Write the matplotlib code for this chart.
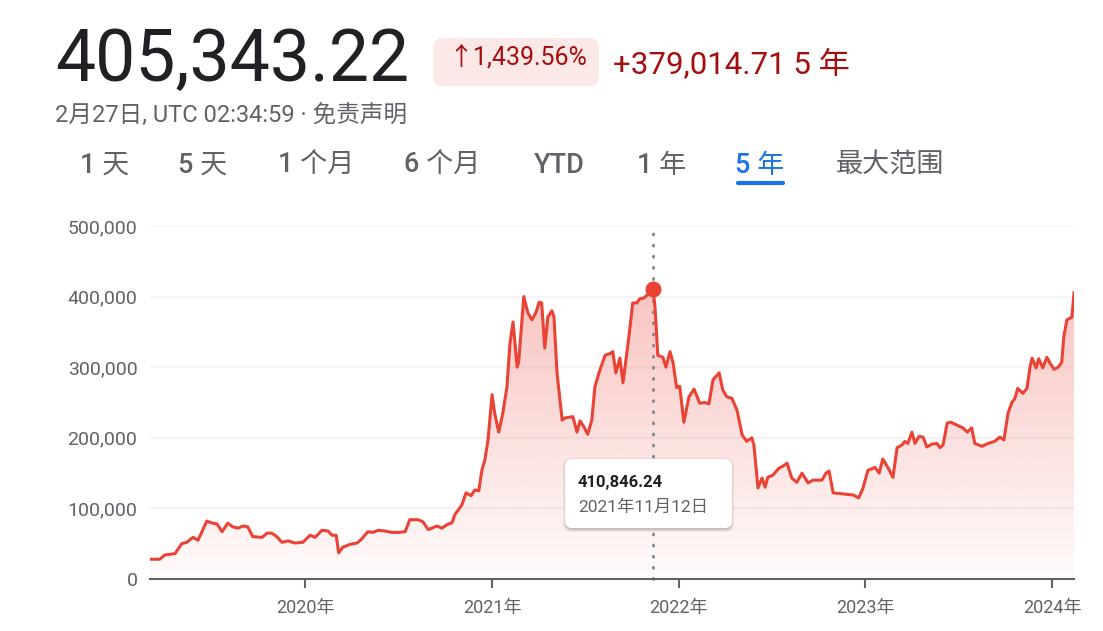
import numpy as np
import pandas as pd
import matplotlib
matplotlib.use('Agg')
import matplotlib.pyplot as plt
import matplotlib.dates as mdates
from matplotlib.patches import FancyBboxPatch
from matplotlib.lines import Line2D
from matplotlib.transforms import IdentityTransform
from matplotlib.ticker import FuncFormatter
from matplotlib.colors import to_rgb

plt.rcParams['font.family'] = ['Roboto', 'Noto Sans CJK SC', 'DejaVu Sans']

# ---- data ----
dates = [
    "2019-03-04", "2019-03-23", "2019-04-02", "2019-04-22", "2019-05-05", "2019-05-15", "2019-05-27",
    "2019-06-06", "2019-06-23", "2019-07-05", "2019-07-13", "2019-07-23", "2019-08-03", "2019-08-13",
    "2019-08-23", "2019-09-02", "2019-09-11", "2019-09-21", "2019-10-09", "2019-10-19", "2019-10-28",
    "2019-11-07", "2019-11-17", "2019-11-29", "2019-12-12", "2019-12-28",
    "2020-01-11", "2020-01-21", "2020-02-03", "2020-02-15", "2020-02-23", "2020-03-02", "2020-03-07",
    "2020-03-15", "2020-03-29", "2020-04-12", "2020-04-20", "2020-05-03", "2020-05-13", "2020-05-23",
    "2020-06-05", "2020-06-19", "2020-07-01", "2020-07-15", "2020-07-24", "2020-08-09", "2020-08-19",
    "2020-08-29", "2020-09-15", "2020-09-25", "2020-10-05", "2020-10-15", "2020-10-20", "2020-11-03",
    "2020-11-11", "2020-11-21", "2020-11-28", "2020-12-06", "2020-12-12", "2020-12-18", "2020-12-24",
    "2021-01-01", "2021-01-06", "2021-01-14", "2021-01-22", "2021-01-30", "2021-02-05", "2021-02-11",
    "2021-02-19", "2021-02-22", "2021-03-04", "2021-03-12", "2021-03-20", "2021-03-28", "2021-04-03",
    "2021-04-08", "2021-04-14", "2021-04-20", "2021-04-28", "2021-05-02", "2021-05-08", "2021-05-18",
    "2021-05-23", "2021-06-08", "2021-06-16", "2021-06-22", "2021-06-30", "2021-07-07", "2021-07-15",
    "2021-07-21", "2021-07-29", "2021-08-10", "2021-08-19", "2021-08-25", "2021-08-31", "2021-09-08",
    "2021-09-14", "2021-09-26", "2021-10-03", "2021-10-11", "2021-10-17", "2021-10-25", "2021-11-12",
    "2021-11-16", "2021-11-21", "2021-12-01", "2021-12-07", "2021-12-15", "2021-12-21", "2021-12-28",
    "2022-01-03", "2022-01-11", "2022-01-21", "2022-01-31", "2022-02-11", "2022-02-21", "2022-03-01",
    "2022-03-09", "2022-03-21", "2022-03-28", "2022-04-05", "2022-04-15", "2022-04-25", "2022-05-05",
    "2022-05-14", "2022-05-24", "2022-05-28", "2022-06-05", "2022-06-13", "2022-06-19", "2022-06-24",
    "2022-07-04", "2022-07-16", "2022-07-24", "2022-08-01", "2022-08-10", "2022-08-20", "2022-08-30",
    "2022-09-11", "2022-09-20", "2022-10-08", "2022-10-16", "2022-10-22", "2022-10-30", "2022-11-12",
    "2022-11-26", "2022-12-08", "2022-12-19", "2022-12-27",
    "2023-01-06", "2023-01-20", "2023-01-28", "2023-02-04", "2023-02-14", "2023-02-24", "2023-03-04",
    "2023-03-14", "2023-03-19", "2023-03-25", "2023-04-02", "2023-04-08", "2023-04-16", "2023-04-24",
    "2023-05-01", "2023-05-11", "2023-05-21", "2023-05-27", "2023-06-02", "2023-06-10", "2023-06-17",
    "2023-06-29", "2023-07-11", "2023-07-19", "2023-07-28", "2023-08-03", "2023-08-17", "2023-08-29",
    "2023-09-11", "2023-09-21", "2023-09-29", "2023-10-07", "2023-10-15", "2023-10-20", "2023-10-26",
    "2023-11-05", "2023-11-13", "2023-11-19", "2023-11-23", "2023-12-01", "2023-12-06", "2023-12-14",
    "2023-12-22", "2023-12-28",
    "2024-01-05", "2024-01-13", "2024-01-20", "2024-01-24", "2024-01-30", "2024-02-09", "2024-02-13",
]

# price in thousands
price_k = [
    28, 28, 34, 36, 50, 52, 59, 55, 82, 79, 78, 67, 79, 74, 72, 75, 74, 60, 59, 65, 65, 60, 52, 54, 51, 52,
    62, 59, 69, 68, 62, 62, 37, 45, 49, 51, 56, 67, 66, 69, 68, 66, 66, 67, 84, 84, 81, 70, 75, 72,
    77, 80, 91, 105, 122, 118, 126, 125, 154, 169, 197,
    261, 235, 208, 235, 272, 334, 364, 300, 307, 400, 377, 367, 378, 392, 391, 327, 371, 380, 371, 292,
    225, 228, 230, 208, 224, 215, 205, 225, 272, 292, 317, 319, 322, 292, 313, 278, 346, 391, 391, 397,
    398, 410.84624, 381, 317, 314, 300, 322, 306, 271,
    273, 222, 258, 269, 249, 250, 248, 282, 292, 268, 258, 256, 239, 204, 195, 200, 190, 129, 143, 130,
    144, 147, 157, 160, 164, 143, 137, 150, 136, 140, 140, 150, 153, 122, 121, 120, 119, 115, 128,
    154, 158, 150, 170, 158, 144, 186, 190, 195, 192, 208, 192, 202, 201, 187, 191, 192, 186, 190, 221,
    222, 218, 214, 208, 214, 192, 188, 192, 195, 201, 197, 235, 251, 255, 270, 263, 270, 300, 313, 299,
    312, 299, 314, 306,
    297, 300, 307, 343, 367, 371, 405.34322,
]

hover_date = "2021-11-12"
hover_value = 410846.24
hover_label = "410,846.24"
hover_date_label = "2021年11月12日"

y_ticks = [0, 100000, 200000, 300000, 400000, 500000]
tabs = ["1 天", "5 天", "1 个月", "6 个月", "YTD", "1 年", "5 年", "最大范围"]
tab_x = [80, 178, 278, 404, 534, 637, 735, 836]
active_tab = "5 年"

# ---- styling ----
W, H = 1103, 631
RED = '#ea4335'
DARK = '#202124'
GRAY = '#5f6368'
DOWN = '#a50e0e'
BLUE = '#1a73e8'

x = mdates.date2num(pd.to_datetime(dates))
y = np.array(price_k) * 1000

fig = plt.figure(figsize=(W / 100, H / 100), dpi=100)
fig.patch.set_facecolor('white')
px = IdentityTransform()


def T(xp, yp, s, **kw):
    # xp, yp in pixels measured from the top-left corner
    return fig.text(xp, H - yp, s, transform=px, **kw)


# header
T(55, 81, "405,343.22", fontsize=51.5, color=DARK)
fig.add_artist(FancyBboxPatch((433, H - 86), 166, 48, boxstyle='round,pad=0,rounding_size=10',
                              transform=px, facecolor='#fce8e6', edgecolor='none'))
T(448, 65, "↑1,439.56%", fontsize=18, color=DOWN)
T(613, 73, "+379,014.71 5 年", fontsize=22.5, color=DOWN)
T(55, 122, "2月27日, UTC 02:34:59 · 免责声明", fontsize=17, color=GRAY)

for lab, xp in zip(tabs, tab_x):
    col = BLUE if lab == active_tab else GRAY
    T(xp, 173, lab, fontsize=19.5, color=col, fontweight='medium')
fig.add_artist(Line2D([738, 783], [H - 183, H - 183], transform=px, color=BLUE, lw=3,
                      solid_capstyle='round'))

# chart
ax = fig.add_axes([150 / W, (H - 579) / H, (1074 - 150) / W, (579 - 226) / H])
ax.set_facecolor('none')

poly = ax.fill_between(x, y, 0, color='none', lw=0)
grad = np.linspace(0, 1, 256).reshape(-1, 1)
rgba = np.zeros((256, 1, 4))
rgba[..., :3] = to_rgb(RED)
rgba[..., 3] = 0.02 + 0.30 * grad
im = ax.imshow(rgba, extent=[x[0], x[-1], 0, 420000], origin='lower', aspect='auto',
               zorder=1, interpolation='bilinear')
im.set_clip_path(poly.get_paths()[0], transform=ax.transData)

ax.plot(x, y, color=RED, lw=2.2, solid_joinstyle='round', zorder=3)

hx = mdates.date2num(pd.Timestamp(hover_date))
ax.plot([hx, hx], [0, 492000], color='#80868b', lw=2.0, linestyle=(0, (0.4, 3.6)),
        dash_capstyle='round', zorder=2, clip_on=False)
ax.plot([hx], [hover_value], 'o', ms=10.5, color=RED, zorder=4, clip_on=False)

ax.set_xlim(x[0], x[-1])
ax.set_ylim(0, 500000)
ax.set_yticks(y_ticks)
ax.yaxis.set_major_formatter(FuncFormatter(lambda v, p: f"{int(v):,}"))
ax.xaxis.set_major_locator(mdates.YearLocator())
ax.xaxis.set_major_formatter(mdates.DateFormatter('%Y年'))

for s in ['top', 'right', 'left']:
    ax.spines[s].set_visible(False)
ax.spines['bottom'].set_color(GRAY)
ax.spines['bottom'].set_linewidth(1.5)
ax.spines['bottom'].set_zorder(5)
ax.grid(axis='y', color='#f1f3f4', lw=1.2, zorder=0)
ax.set_axisbelow(True)
ax.tick_params(axis='y', length=0, pad=9, labelsize=14, labelcolor=GRAY)
ax.tick_params(axis='x', length=6.5, width=1.5, color=GRAY, pad=8, labelsize=13, labelcolor=GRAY)

# tooltip
bx, by, bw, bh = 565, H - 528, 167, 69
for off, a in [(3, 0.05), (2, 0.07), (1, 0.09)]:
    fig.add_artist(FancyBboxPatch((bx - off + 1, by - off - 1), bw + 2 * off - 2, bh + 2 * off - 1,
                                  boxstyle='round,pad=0,rounding_size=8', transform=px,
                                  facecolor='black', alpha=a, edgecolor='none'))
fig.add_artist(FancyBboxPatch((bx, by), bw, bh, boxstyle='round,pad=0,rounding_size=7',
                              transform=px, facecolor='white', edgecolor='none'))
T(578, 487, hover_label, fontsize=12, color=DARK, fontweight='bold')
T(578, 512, hover_date_label, fontsize=12.5, color=GRAY)

fig.savefig('out.png', dpi=100)
